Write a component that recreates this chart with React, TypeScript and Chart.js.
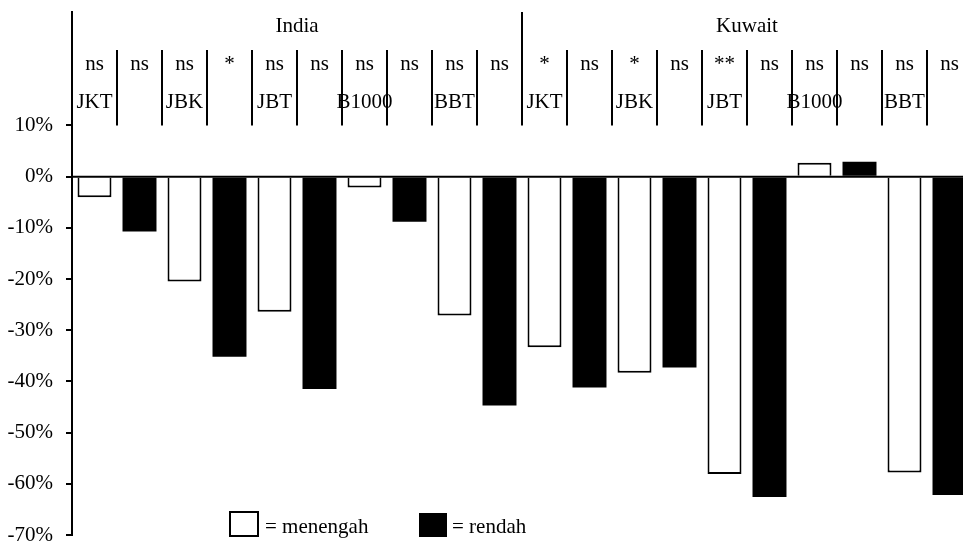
import React, { useEffect, useRef } from "react";
import { Chart, registerables } from "chart.js";

Chart.register(...registerables);

const countries = ["India", "Kuwait"];
const categories = ["JKT", "JBK", "JBT", "B1000", "BBT"];
const menengahIndia = [-4.0, -20.5, -26.4, -2.1, -27.1];
const rendahIndia = [-10.7, -35.2, -41.5, -8.8, -44.7];
const menengahKuwait = [-33.3, -38.3, -58.1, 2.7, -57.8];
const rendahKuwait = [-41.2, -37.3, -62.6, 2.9, -62.2];
const sigIndia = ["ns", "ns", "ns", "*", "ns", "ns", "ns", "ns", "ns", "ns"];
const sigKuwait = ["*", "ns", "*", "ns", "**", "ns", "ns", "ns", "ns", "ns"];
const yTicks = [-70, -60, -50, -40, -30, -20, -10, 0, 10];
const legendLabels = ["= menengah", "= rendah"];

const FONT = '21px "Liberation Serif", "Times New Roman", serif';

export default function App() {
  const ref = useRef<HTMLCanvasElement | null>(null);

  useEffect(() => {
    const canvas = ref.current;
    if (!canvas) return;

    const menengahByCountry = [menengahIndia, menengahKuwait];
    const rendahByCountry = [rendahIndia, rendahKuwait];
    const sigByCountry = [sigIndia, sigKuwait];

    const labels: string[] = [];
    const menData: (number | null)[] = [];
    const renData: (number | null)[] = [];
    const sigs: string[] = [];
    countries.forEach((c, ci) => {
      categories.forEach((k, ki) => {
        labels.push(`${c} ${k} menengah`);
        menData.push(menengahByCountry[ci][ki]);
        renData.push(null);
        labels.push(`${c} ${k} rendah`);
        menData.push(null);
        renData.push(rendahByCountry[ci][ki]);
      });
      sigByCountry[ci].forEach((s) => sigs.push(s));
    });

    const headerPlugin = {
      id: "header",
      afterDatasetsDraw(chart: any) {
        const { ctx, chartArea, scales } = chart;
        const y = scales.y;
        const left = chartArea.left;
        const right = chartArea.right;
        const n = labels.length;
        const slotW = (right - left) / n;
        const zeroY = y.getPixelForValue(0);
        const topTickY = y.getPixelForValue(yTicks[yTicks.length - 1]);

        ctx.save();
        ctx.strokeStyle = "#000";
        ctx.lineWidth = 2;
        ctx.beginPath();
        ctx.moveTo(left, zeroY);
        ctx.lineTo(right, zeroY);
        ctx.stroke();

        for (let i = 1; i < n; i++) {
          const x = Math.round(left + i * slotW);
          const yTop = i === n / 2 ? chartArea.top : chartArea.top + 38;
          ctx.beginPath();
          ctx.moveTo(x, yTop);
          ctx.lineTo(x, topTickY);
          ctx.stroke();
        }

        ctx.fillStyle = "#000";
        ctx.font = FONT;
        ctx.textAlign = "center";
        ctx.textBaseline = "alphabetic";
        const half = (right - left) / countries.length;
        countries.forEach((c, ci) => {
          ctx.fillText(c, left + half * ci + half / 2, chartArea.top + 20);
        });
        sigs.forEach((s, i) => {
          ctx.fillText(s, left + (i + 0.5) * slotW, chartArea.top + 57.5);
        });
        countries.forEach((c, ci) => {
          categories.forEach((k, ki) => {
            const slot = ci * categories.length * 2 + ki * 2;
            ctx.fillText(k, left + (slot + 0.5) * slotW, chartArea.top + 96);
          });
        });

        const ly = 512;
        ctx.lineWidth = 2;
        ctx.fillStyle = "#fff";
        ctx.fillRect(230, ly, 28, 24);
        ctx.strokeRect(230, ly, 28, 24);
        ctx.fillStyle = "#000";
        ctx.fillRect(419, ly + 1, 28, 24);
        ctx.textAlign = "left";
        ctx.fillText(legendLabels[0], 265, 533);
        ctx.fillText(legendLabels[1], 452, 533);
        ctx.restore();
      },
    };

    const chart = new Chart(canvas, {
      type: "bar",
      data: {
        labels,
        datasets: [
          {
            label: "menengah",
            data: menData,
            backgroundColor: "#ffffff",
            borderColor: "#000000",
            borderWidth: 2,
            grouped: false,
            barPercentage: 0.755,
            categoryPercentage: 1,
          } as any,
          {
            label: "rendah",
            data: renData,
            backgroundColor: "#000000",
            borderColor: "#000000",
            borderWidth: 0,
            grouped: false,
            barPercentage: 0.755,
            categoryPercentage: 1,
          } as any,
        ],
      },
      options: {
        animation: false,
        responsive: false,
        devicePixelRatio: 1,
        layout: { padding: { top: 12, bottom: 8, left: 0, right: 0 } },
        plugins: {
          legend: { display: false },
          tooltip: { enabled: false },
        },
        scales: {
          x: { display: false },
          y: {
            min: -70,
            max: 32.17,
            afterFit(scale: any) {
              scale.width = 72;
              scale.paddingTop = 0;
              scale.paddingBottom = 0;
            },
            afterBuildTicks(scale: any) {
              scale.ticks = yTicks.map((v) => ({ value: v }));
            },
            border: { display: true, color: "#000", width: 2 },
            grid: {
              drawOnChartArea: false,
              drawTicks: true,
              tickLength: 6,
              color: "#000",
              lineWidth: 2,
            },
            ticks: {
              padding: 13,
              color: "#000",
              font: { family: '"Liberation Serif", "Times New Roman", serif', size: 21 },
              callback: (v: any) => `${v}%`,
            },
          },
        },
      },
      plugins: [headerPlugin],
    });

    return () => chart.destroy();
  }, []);

  return (
    <div
      style={{
        position: "fixed",
        left: 0,
        top: 0,
        width: 963,
        height: 543,
        overflow: "hidden",
        background: "#fff",
      }}
    >
      <canvas ref={ref} width={972} height={543} style={{ display: "block", width: 972, height: 543 }} />
    </div>
  );
}
